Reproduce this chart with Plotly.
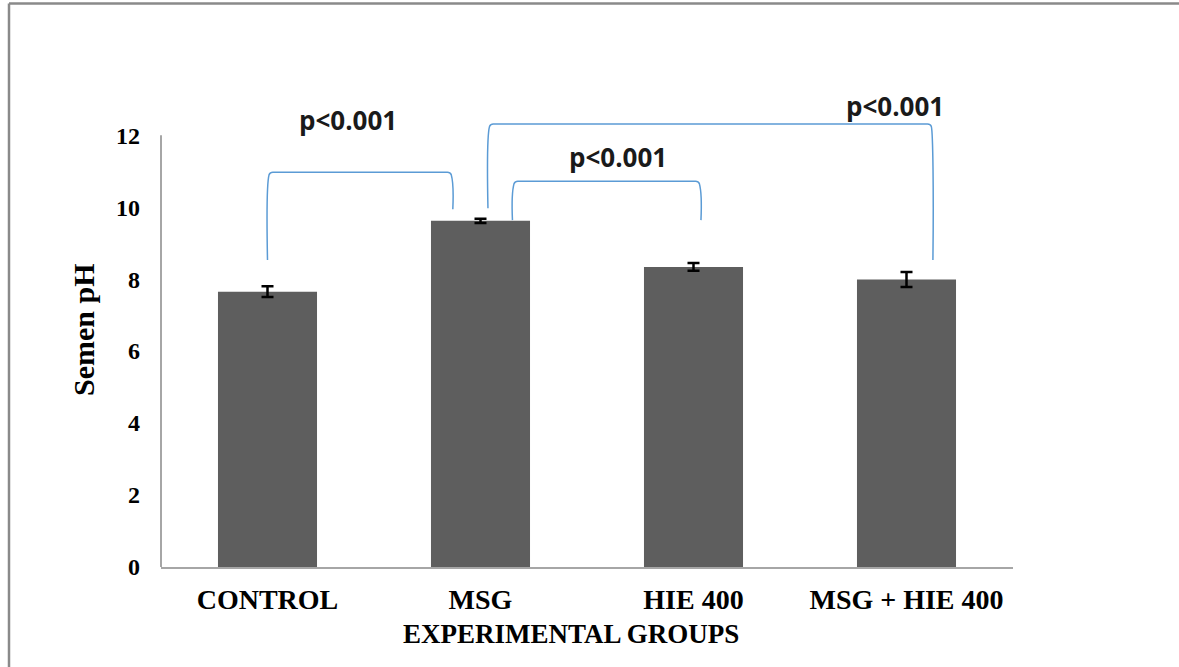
import plotly.graph_objects as go

# ---- data ----
categories = ["CONTROL", "MSG", "HIE 400", "MSG + HIE 400"]
ph_mean = [7.65, 9.62, 8.34, 7.99]
ph_err = [0.15, 0.06, 0.11, 0.21]
y_ticks = [0, 2, 4, 6, 8, 10, 12]
comparisons = [("CONTROL", "MSG"), ("MSG", "HIE 400"), ("MSG", "MSG + HIE 400")]
p_labels = ["p<0.001", "p<0.001", "p<0.001"]

# ---- bracket styling (offsets from category centres, heights in axis units) ----
bracket_style = [
    dict(dl=0.0, dr=-0.13, top=10.97, lb=8.53, rb=9.94, tx=0.378, ty=12.42),
    dict(dl=0.15, dr=0.035, top=10.72, lb=9.64, rb=9.64, tx=1.645, ty=11.39),
    dict(dl=0.035, dr=0.124, top=12.31, lb=9.97, rb=8.53, tx=2.946, ty=12.8),
]

SERIF = "Liberation Serif"
SANS = "Open Sans"
GRID = "#a6a6a6"
BLUE = "#5b9bd5"

xi = list(range(len(categories)))
fig = go.Figure()
fig.add_trace(go.Bar(
    x=xi, y=ph_mean, width=0.465,
    marker=dict(color="#5e5e5e", line=dict(width=0)),
    error_y=dict(type="data", array=ph_err, color="black", thickness=2.5, width=6),
    showlegend=False, hoverinfo="skip",
))

shapes = []
annotations = []
for (a, b), lab, st in zip(comparisons, p_labels, bracket_style):
    x0 = categories.index(a) + st["dl"]
    x1 = categories.index(b) + st["dr"]
    top = st["top"]
    rx, ry = 0.025, 0.22
    path = (f"M {x0},{st['lb']} "
            f"C {x0-0.004},{(st['lb']+top)/2} {x0},{top-ry} {x0+rx*0.3},{top-ry*0.3} "
            f"Q {x0+rx*0.5},{top} {x0+rx},{top} "
            f"L {x1-rx},{top} "
            f"Q {x1-rx*0.5},{top} {x1-rx*0.3},{top-ry*0.3} "
            f"C {x1},{top-ry} {x1+0.004},{(st['rb']+top)/2} {x1},{st['rb']}")
    shapes.append(dict(type="path", xref="x", yref="y", path=path,
                       line=dict(color=BLUE, width=1.5)))
    annotations.append(dict(x=st["tx"], y=st["ty"], xref="x", yref="y",
                            text=f"<b>{lab}</b>", showarrow=False,
                            font=dict(family=SANS, size=26, color="#1a1a1a"),
                            xanchor="center", yanchor="middle"))

# y axis line (stops at 12)
shapes.append(dict(type="line", xref="paper", yref="y", x0=0, x1=0, y0=0, y1=12,
                   line=dict(color=GRID, width=2)))
# outer frame (top and left edges)
fx = (9 - 161) / 852
fy = (567 - 3.5) / 475
shapes.append(dict(type="line", xref="paper", yref="paper", x0=fx, x1=fx, y0=-0.5, y1=fy,
                   line=dict(color="#8a8a8a", width=2.5)))
shapes.append(dict(type="line", xref="paper", yref="paper", x0=fx, x1=1.5, y0=fy, y1=fy,
                   line=dict(color="#8a8a8a", width=2.5)))

annotations.append(dict(x=(83 - 161) / 852, y=(567 - 330) / 475, xref="paper", yref="paper",
                        text="<b>Semen pH</b>", textangle=-90, showarrow=False,
                        font=dict(family=SERIF, size=30, color="black"),
                        xanchor="center", yanchor="middle"))
annotations.append(dict(x=(571 - 161) / 852, y=(567 - 634) / 475, xref="paper", yref="paper",
                        text="<b>EXPERIMENTAL GROUPS</b>", showarrow=False,
                        font=dict(family=SERIF, size=27, color="black"),
                        xanchor="center", yanchor="middle"))

fig.update_layout(
    width=1179, height=667,
    margin=dict(l=161, r=166, t=92, b=100),
    paper_bgcolor="white", plot_bgcolor="white",
    shapes=shapes, annotations=annotations,
    xaxis=dict(range=[-0.5, 3.5], tickvals=xi, ticktext=[f"<b>{c}</b>" for c in categories],
               showline=True, linecolor=GRID, linewidth=2, showgrid=False, zeroline=False,
               ticks="", ticklabelstandoff=6,
               tickfont=dict(family=SERIF, size=28, color="black")),
    yaxis=dict(range=[0, 13.2], tickvals=y_ticks, ticktext=[f"<b>{v}</b>" for v in y_ticks],
               showline=False, showgrid=False, zeroline=False, ticks="",
               ticklabelstandoff=20,
               tickfont=dict(family=SERIF, size=24, color="black")),
)

fig.write_html("out.html", config={"displayModeBar": False},
               post_script="document.body.style.margin='0px';")
